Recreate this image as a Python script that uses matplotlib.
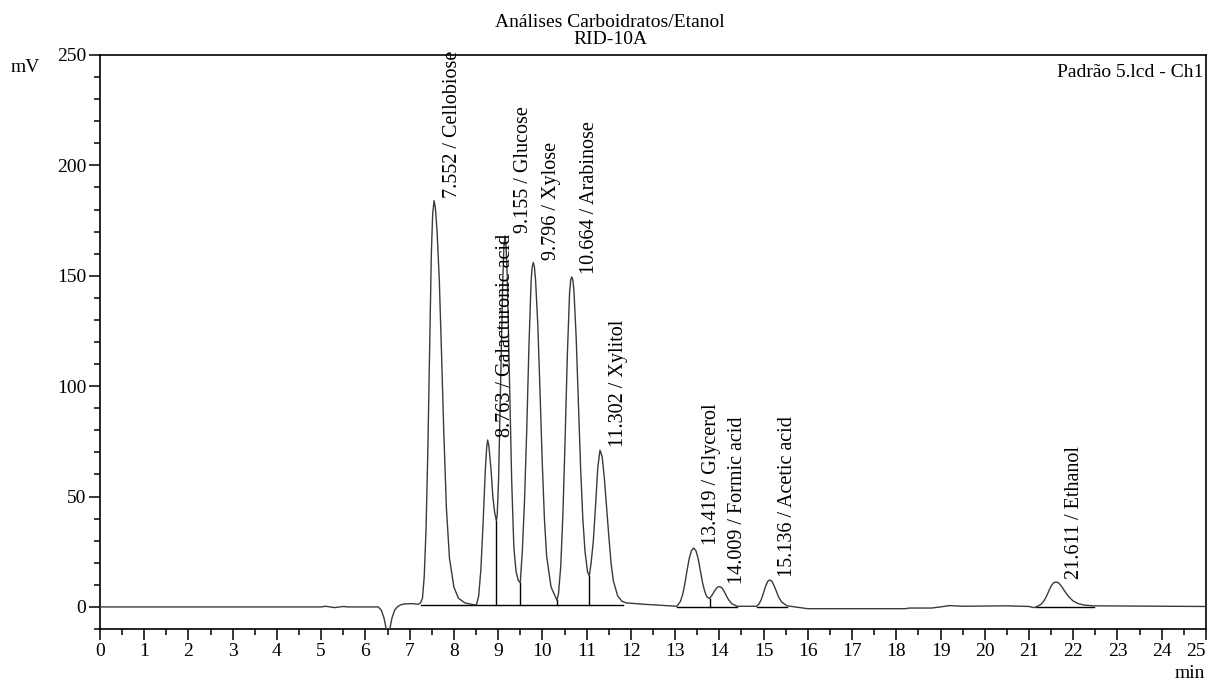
import numpy as np
import matplotlib
matplotlib.use('Agg')
import matplotlib.pyplot as plt
from matplotlib.ticker import MultipleLocator

plt.rcParams['font.family'] = ['Liberation Serif', 'DejaVu Serif']

# chromatogram trace (time in min, signal in mV)
trace_t = [0.0, 5.0, 5.1, 5.3, 5.5, 5.6, 6.29, 6.36, 6.42, 6.47, 6.50, 6.55, 6.60, 6.66, 6.72, 6.80, 6.90, 7.05, 7.20,
           7.25, 7.29, 7.33, 7.37, 7.41, 7.45, 7.49, 7.52, 7.552, 7.58, 7.62, 7.67, 7.72, 7.77, 7.83, 7.90, 8.00, 8.10, 8.25, 8.45,
           8.51, 8.56, 8.61, 8.66, 8.71, 8.74, 8.763, 8.79, 8.84, 8.88, 8.92, 8.96,
           8.98, 9.01, 9.055, 9.105, 9.13, 9.155, 9.18, 9.205, 9.255, 9.305, 9.355, 9.405, 9.455, 9.50,
           9.546, 9.596, 9.646, 9.696, 9.746, 9.77, 9.796, 9.82, 9.846, 9.896, 9.946, 9.996, 10.046, 10.096, 10.196, 10.33,
           10.364, 10.414, 10.464, 10.514, 10.564, 10.614, 10.64, 10.664, 10.69, 10.714, 10.764, 10.814, 10.864, 10.914,
           10.964, 11.02, 11.06,
           11.102, 11.152, 11.202, 11.252, 11.302, 11.352, 11.402, 11.452, 11.502, 11.552, 11.602, 11.702, 11.802, 11.902,
           12.3, 12.9,
           13.04, 13.12, 13.17, 13.22, 13.27, 13.32, 13.37, 13.419, 13.47, 13.52, 13.57, 13.62, 13.67, 13.72, 13.78,
           13.84, 13.91, 13.96, 14.009, 14.06, 14.11, 14.16, 14.21, 14.28, 14.40,
           14.84, 14.89, 14.94, 14.99, 15.04, 15.09, 15.136, 15.19, 15.24, 15.29, 15.34, 15.41, 15.53,
           16.0, 18.2, 18.3, 18.8, 19.0, 19.2, 19.5, 20.5, 21.0, 21.1,
           21.16, 21.26, 21.31, 21.36, 21.41, 21.46, 21.51, 21.56, 21.611, 21.66, 21.71, 21.76, 21.81, 21.89, 21.99,
           22.11, 22.26, 22.46, 25.0]
trace_mv = [0.0, 0.0, 0.3, -0.3, 0.2, 0.0, 0.0, -1.5, -5, -10, -12, -10, -5, -1.5, 0.0, 1.0, 1.4, 1.5, 1.2,
            2, 4, 14, 35, 70, 115, 160, 178, 184, 181, 170, 148, 115, 80, 45, 22, 9, 4, 1.8, 1.0,
            1, 5, 17, 38, 62, 72, 75.6, 73, 62, 50, 43, 39,
            42, 58, 100, 148, 163, 168, 163, 150, 105, 58, 27, 16, 12, 11,
            25, 48, 80, 118, 148, 154, 156, 154, 148, 128, 98, 66, 40, 23, 9, 3,
            6, 18, 42, 76, 114, 142, 148, 149.5, 148, 143, 122, 92, 63, 40,
            25, 16, 14,
            20, 30, 46, 63, 71, 68, 58, 45, 32, 20, 12, 5, 2.5, 1.8,
            1.2, 0.5,
            0.3, 2.5, 5.5, 10.5, 16.5, 22, 25.5, 26.7, 25.5, 22, 16.5, 11, 7, 4.5, 3.8,
            5.5, 7.8, 9, 9.2, 8.6, 7, 5, 3.2, 1.5, 0.3,
            0.3, 1.2, 3, 5.8, 9, 11.5, 12.2, 11.6, 9.5, 7, 4.5, 2.2, 0.5,
            -0.8, -0.8, -0.5, -0.5, 0.0, 0.6, 0.3, 0.5, 0.2, -0.3,
            0.0, 1, 2, 3.5, 5.5, 7.8, 9.8, 11, 11.3, 11, 10, 8.6, 7, 4.8, 2.8,
            1.5, 0.8, 0.5, 0.2]

# peak labels
peak_times = [7.552, 8.763, 9.155, 9.796, 10.664, 11.302, 13.419, 14.009, 15.136, 21.611]
peak_names = ['Cellobiose', 'Galacturonic acid', 'Glucose', 'Xylose', 'Arabinose', 'Xylitol',
              'Glycerol', 'Formic acid', 'Acetic acid', 'Ethanol']
peak_heights = [184, 75.6, 168, 156, 149.5, 71, 26.7, 9.2, 12.2, 11.3]

# integration baselines and drop lines
base_start = [7.25, 13.04, 14.84, 21.16]
base_end = [11.83, 14.40, 15.53, 22.46]
base_level = [0.9, 0.0, 0.0, 0.0]
drop_t = [8.96, 9.50, 10.33, 11.06, 13.78]
drop_low = [0.9, 0.9, 0.9, 0.9, 0.0]
drop_top = [39, 11, 3, 14, 3.8]

fig = plt.figure(figsize=(12.09, 6.82), dpi=100)
ax = fig.add_axes([0.0827, 0.0777, 0.9148, 0.8417])

ax.plot(trace_t, trace_mv, color='#3a3a3a', lw=1.0, zorder=3)
for s, e, lv in zip(base_start, base_end, base_level):
    ax.plot([s, e], [lv, lv], color='black', lw=1.0, zorder=2)
for t, lo, top in zip(drop_t, drop_low, drop_top):
    ax.plot([t, t], [lo, top], color='black', lw=1.0, zorder=2)

for t, h, name in zip(peak_times, peak_heights, peak_names):
    ax.annotate('%.3f / %s' % (t, name), xy=(t, h), xytext=(13, 2), textcoords='offset points',
                rotation=90, ha='center', va='bottom', fontsize=14.5)

ax.set_xlim(0, 25)
ax.set_ylim(-10, 250)
ax.set_xticks(np.arange(0, 26))
ax.xaxis.set_minor_locator(MultipleLocator(0.5))
ax.yaxis.set_major_locator(MultipleLocator(50))
ax.yaxis.set_minor_locator(MultipleLocator(10))
ax.tick_params(which='major', direction='out', length=8, width=1.1, labelsize=14, pad=2)
ax.tick_params(which='minor', direction='out', length=4, width=1.1)
ax.get_xticklabels()[-1].set_horizontalalignment('right')
for sp in ax.spines.values():
    sp.set_linewidth(1.2)

fig.text(25 / 1209, 1 - 68 / 682, 'mV', ha='center', va='center', fontsize=14)
fig.text(1205 / 1209, 0.0, 'min', ha='right', va='bottom', fontsize=14)
ax.text(0.998, 0.985, 'Padrão 5.lcd - Ch1', transform=ax.transAxes, ha='right', va='top', fontsize=14)
fig.text(610 / 1209, 1 - 31 / 682, 'Análises Carboidratos/Etanol\nRID-10A', ha='center', va='center',
         fontsize=14, linespacing=1.05)

fig.savefig('out.png', dpi=100)
